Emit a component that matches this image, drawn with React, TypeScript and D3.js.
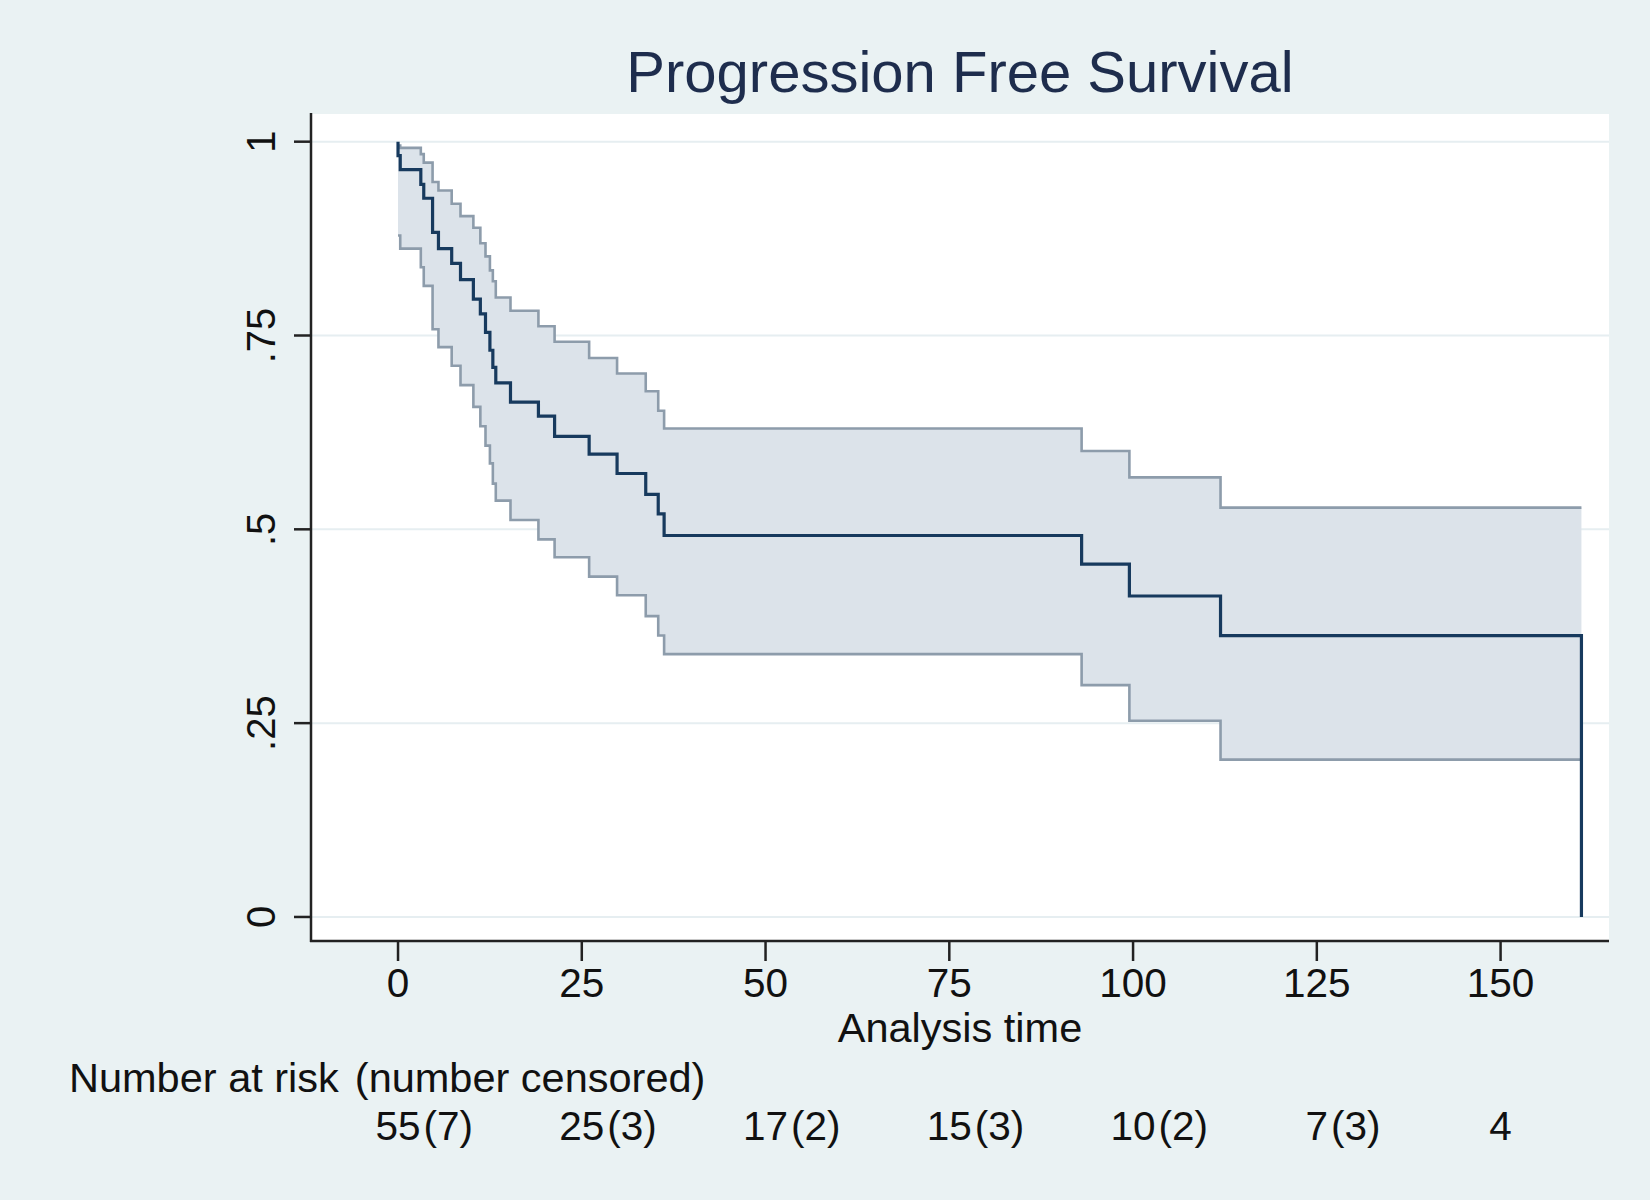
import React, { useEffect, useRef } from "react";
import * as d3 from "d3";

// Kaplan-Meier estimate (value after each step)
const stepTimes = [0, 0.3, 3.1, 3.5, 4.7, 5.5, 7.3, 8.5, 10.25, 11.2, 11.9, 12.5, 12.9, 13.3, 15.3, 19.1, 21.3, 26.0, 29.8, 33.7, 35.4, 36.2, 93.0, 99.5, 111.9];
const survival = [0.982, 0.964, 0.945, 0.927, 0.883, 0.862, 0.843, 0.822, 0.797, 0.778, 0.754, 0.731, 0.709, 0.689, 0.664, 0.646, 0.62, 0.597, 0.572, 0.545, 0.52, 0.492, 0.455, 0.414, 0.363];
const lowerCI = [0.879, 0.862, 0.838, 0.814, 0.758, 0.735, 0.711, 0.686, 0.658, 0.633, 0.608, 0.585, 0.559, 0.537, 0.512, 0.487, 0.464, 0.439, 0.415, 0.388, 0.363, 0.339, 0.299, 0.253, 0.203];
const upperCI = [0.995, 0.992, 0.984, 0.973, 0.948, 0.937, 0.92, 0.904, 0.889, 0.869, 0.852, 0.834, 0.82, 0.799, 0.782, 0.762, 0.742, 0.721, 0.701, 0.678, 0.653, 0.63, 0.601, 0.567, 0.528];
const lastTime = 161;

const xTicks = [0, 25, 50, 75, 100, 125, 150];
const yTicks = [0, 0.25, 0.5, 0.75, 1];
const yTickLabels = ["0", ".25", ".5", ".75", "1"];

// number at risk table
const riskTimes = [0, 25, 50, 75, 100, 125, 150];
const atRisk = [55, 25, 17, 15, 10, 7, 4];
const censored = [7, 3, 2, 3, 2, 3, null];

const W = 1650;
const H = 1200;
const FONT = "'Liberation Sans', Arial, Helvetica, sans-serif";

export default function App() {
    const ref = useRef<SVGSVGElement>(null);

    useEffect(() => {
        const svg = d3.select(ref.current);
        svg.selectAll("*").remove();

        const plot = { left: 311, right: 1609, top: 114, bottom: 941 };

        const xScale = d3.scaleLinear().domain([-11.84, 164.75]).range([plot.left, plot.right]);
        const yScale = d3.scaleLinear().domain([-0.031, 1.0357]).range([plot.bottom, plot.top]);

        svg.append("rect").attr("width", W).attr("height", H).attr("fill", "#eaf2f3");

        svg.append("rect")
            .attr("x", plot.left)
            .attr("y", plot.top)
            .attr("width", plot.right - plot.left)
            .attr("height", plot.bottom - plot.top)
            .attr("fill", "#ffffff");

        // gridlines
        svg.append("g")
            .selectAll("line")
            .data(yTicks)
            .enter()
            .append("line")
            .attr("x1", plot.left)
            .attr("x2", plot.right)
            .attr("y1", (d) => yScale(d))
            .attr("y2", (d) => yScale(d))
            .attr("stroke", "#e6eef1")
            .attr("stroke-width", 2);

        const rows = stepTimes.map((t, i) => ({ t, s: survival[i], lo: lowerCI[i], hi: upperCI[i] }));
        const last = rows[rows.length - 1];
        const bandRows = [...rows, { ...last, t: lastTime }];

        const area = d3
            .area<any>()
            .curve(d3.curveStepAfter)
            .x((d) => xScale(d.t))
            .y0((d) => yScale(d.lo))
            .y1((d) => yScale(d.hi));

        svg.append("path")
            .datum(bandRows)
            .attr("fill", "#dce3ea")
            .attr("d", area);

        const ciLine = (key: "lo" | "hi") =>
            d3
                .line<any>()
                .curve(d3.curveStepAfter)
                .x((d) => xScale(d.t))
                .y((d) => yScale(d[key]));

        ["lo", "hi"].forEach((k) => {
            svg.append("path")
                .datum(bandRows)
                .attr("fill", "none")
                .attr("stroke", "#8d9cab")
                .attr("stroke-width", 2.6)
                .attr("d", ciLine(k as "lo" | "hi"));
        });

        // survivor function
        const mainRows = [{ t: 0, s: 1 }, ...rows, { t: lastTime, s: last.s }, { t: lastTime, s: 0 }];
        const mainLine = d3
            .line<any>()
            .curve(d3.curveStepAfter)
            .x((d) => xScale(d.t))
            .y((d) => yScale(d.s));

        svg.append("path")
            .datum(mainRows)
            .attr("fill", "none")
            .attr("stroke", "#173a5e")
            .attr("stroke-width", 3.2)
            .attr("d", mainLine);

        // axes
        svg.append("line")
            .attr("x1", plot.left).attr("x2", plot.left)
            .attr("y1", plot.top - 1).attr("y2", plot.bottom + 1)
            .attr("stroke", "#222").attr("stroke-width", 2.5);
        svg.append("line")
            .attr("x1", plot.left - 1).attr("x2", plot.right)
            .attr("y1", plot.bottom).attr("y2", plot.bottom)
            .attr("stroke", "#222").attr("stroke-width", 2.5);

        const yAxis = svg.append("g");
        yAxis.selectAll("line")
            .data(yTicks)
            .enter()
            .append("line")
            .attr("x1", plot.left - 17)
            .attr("x2", plot.left)
            .attr("y1", (d) => yScale(d))
            .attr("y2", (d) => yScale(d))
            .attr("stroke", "#222")
            .attr("stroke-width", 2.5);
        yAxis.selectAll("text")
            .data(yTicks)
            .enter()
            .append("text")
            .attr("transform", (d) => `translate(275, ${yScale(d)}) rotate(-90)`)
            .attr("text-anchor", "middle")
            .style("font-family", FONT)
            .style("font-size", "40px")
            .style("fill", "#111")
            .text((d, i) => yTickLabels[i]);

        const xAxis = svg.append("g");
        xAxis.selectAll("line")
            .data(xTicks)
            .enter()
            .append("line")
            .attr("x1", (d) => xScale(d))
            .attr("x2", (d) => xScale(d))
            .attr("y1", plot.bottom)
            .attr("y2", plot.bottom + 20)
            .attr("stroke", "#222")
            .attr("stroke-width", 2.5);
        xAxis.selectAll("text")
            .data(xTicks)
            .enter()
            .append("text")
            .attr("x", (d) => xScale(d))
            .attr("y", 997)
            .attr("text-anchor", "middle")
            .style("font-family", FONT)
            .style("font-size", "40.5px")
            .style("fill", "#111")
            .text((d) => String(d));

        svg.append("text")
            .attr("x", (plot.left + plot.right) / 2)
            .attr("y", 1042)
            .attr("text-anchor", "middle")
            .style("font-family", FONT)
            .style("font-size", "41.5px")
            .style("fill", "#111")
            .text("Analysis time");

        svg.append("text")
            .attr("x", (plot.left + plot.right) / 2)
            .attr("y", 92)
            .attr("text-anchor", "middle")
            .style("font-family", FONT)
            .style("font-size", "58px")
            .style("fill", "#1e2d4d")
            .text("Progression Free Survival");

        // risk table
        svg.append("text")
            .attr("x", 69)
            .attr("y", 1092)
            .style("font-family", FONT)
            .style("font-size", "41.5px")
            .style("fill", "#111")
            .style("word-spacing", "0px")
            .text("Number at risk")
            .append("tspan")
            .attr("dx", 16)
            .text("(number censored)");

        const risk = svg.append("g");
        riskTimes.forEach((t, i) => {
            const num = risk.append("text")
                .attr("x", xScale(t))
                .attr("y", 1140)
                .attr("text-anchor", "middle")
                .style("font-family", FONT)
                .style("font-size", "40.5px")
                .style("fill", "#111")
                .text(String(atRisk[i]));
            if (censored[i] !== null) {
                const w = (num.node() as SVGTextElement).getComputedTextLength();
                risk.append("text")
                    .attr("x", xScale(t) + w / 2 + 3)
                    .attr("y", 1140)
                    .style("font-family", FONT)
                    .style("font-size", "40.5px")
                    .style("fill", "#111")
                    .text(`(${censored[i]})`);
            }
        });
    }, []);

    return (
        <svg
            ref={ref}
            width={W}
            height={H}
            style={{ position: "absolute", left: 0, top: 0, display: "block" }}
        />
    );
}
